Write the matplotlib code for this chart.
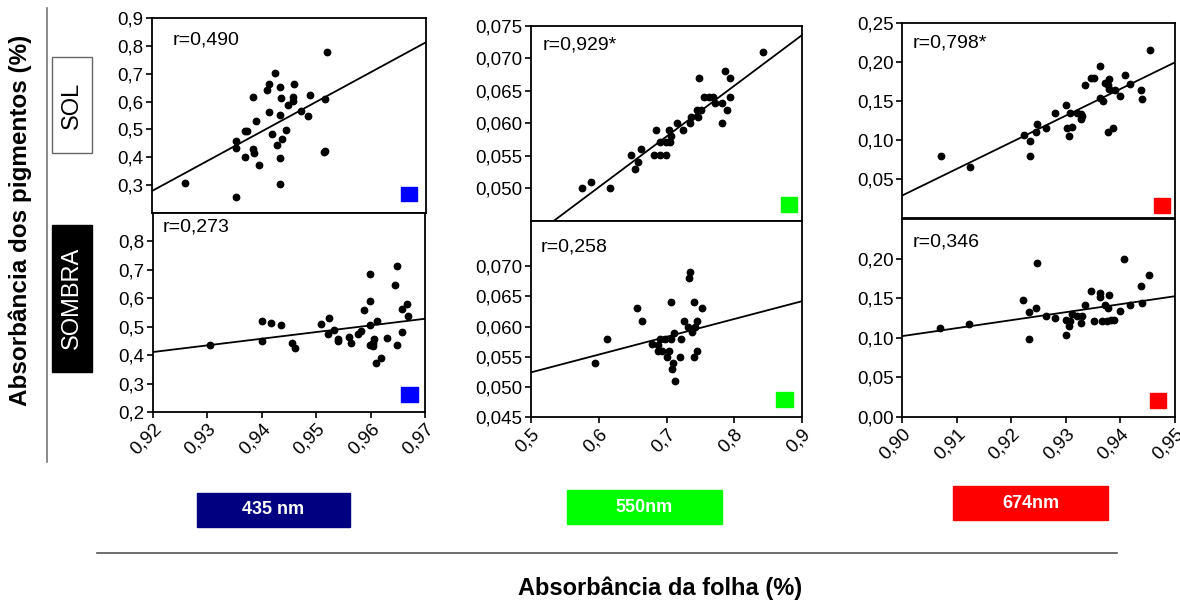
import numpy as np
import matplotlib
matplotlib.use("Agg")
import matplotlib.pyplot as plt
from matplotlib.patches import Rectangle
from matplotlib.lines import Line2D

plt.rcParams['font.family'] = ['Liberation Sans', 'DejaVu Sans']

# ---- dados ----
# 435 nm, sol
x_435_sol = [0.9261, 0.9354, 0.9354, 0.9354, 0.9369, 0.9373, 0.9369, 0.9385, 0.9389, 0.9384,
             0.9387, 0.9395, 0.9410, 0.9414, 0.9425, 0.9414, 0.9419, 0.9428, 0.9434, 0.9436,
             0.9434, 0.9437, 0.9433, 0.9434, 0.9445, 0.9448, 0.9457, 0.9458, 0.9460, 0.9471,
             0.9484, 0.9488, 0.9513, 0.9515, 0.9516, 0.9520]
y_435_sol = [0.306, 0.256, 0.457, 0.433, 0.494, 0.494, 0.401, 0.615, 0.529, 0.428,
             0.415, 0.374, 0.642, 0.662, 0.704, 0.561, 0.484, 0.443, 0.654, 0.613,
             0.552, 0.464, 0.399, 0.305, 0.498, 0.588, 0.618, 0.603, 0.662, 0.567,
             0.547, 0.623, 0.419, 0.422, 0.609, 0.778]
# 435 nm, sombra
x_435_sombra = [0.9305, 0.9400, 0.9400, 0.9417, 0.9435, 0.9456, 0.9461, 0.9509, 0.9524, 0.9522,
                0.9532, 0.9540, 0.9540, 0.9561, 0.9564, 0.9576, 0.9582, 0.9588, 0.9599, 0.9599,
                0.9598, 0.9598, 0.9604, 0.9606, 0.9605, 0.9611, 0.9610, 0.9619, 0.9630, 0.9644,
                0.9649, 0.9648, 0.9657, 0.9657, 0.9666, 0.9668]
y_435_sombra = [0.437, 0.520, 0.449, 0.512, 0.505, 0.443, 0.426, 0.510, 0.530, 0.475,
                0.488, 0.456, 0.449, 0.463, 0.443, 0.476, 0.486, 0.559, 0.687, 0.590,
                0.505, 0.435, 0.443, 0.456, 0.431, 0.521, 0.374, 0.391, 0.461, 0.648,
                0.713, 0.436, 0.482, 0.562, 0.581, 0.536]
# 550 nm, sol
x_550_sol = [0.576, 0.588, 0.617, 0.648, 0.654, 0.658, 0.663, 0.681, 0.684, 0.691,
             0.691, 0.699, 0.699, 0.703, 0.705, 0.706, 0.715, 0.724, 0.735, 0.736,
             0.746, 0.745, 0.751, 0.748, 0.756, 0.763, 0.768, 0.771, 0.782, 0.786,
             0.782, 0.789, 0.794, 0.794, 0.842]
y_550_sol = [0.0500, 0.0510, 0.0500, 0.0551, 0.0530, 0.0541, 0.0560, 0.0551, 0.0590, 0.0571,
             0.0551, 0.0551, 0.0571, 0.0590, 0.0571, 0.0580, 0.0601, 0.0590, 0.0601, 0.0610,
             0.0610, 0.0620, 0.0620, 0.0670, 0.0641, 0.0641, 0.0641, 0.0631, 0.0631, 0.0680,
             0.0601, 0.0620, 0.0670, 0.0641, 0.0710]
# 550 nm, sombra
x_550_sombra = [0.595, 0.612, 0.656, 0.664, 0.679, 0.688, 0.688, 0.690, 0.694, 0.698,
                0.701, 0.704, 0.706, 0.707, 0.708, 0.710, 0.711, 0.713, 0.720, 0.721,
                0.726, 0.731, 0.733, 0.734, 0.738, 0.740, 0.741, 0.742, 0.745, 0.745,
                0.753]
y_550_sombra = [0.0540, 0.0580, 0.0631, 0.0610, 0.0571, 0.0570, 0.0560, 0.0580, 0.0560, 0.0580,
                0.0550, 0.0560, 0.0641, 0.0580, 0.0530, 0.0540, 0.0590, 0.0510, 0.0550, 0.0580,
                0.0610, 0.0600, 0.0681, 0.0691, 0.0591, 0.0550, 0.0641, 0.0600, 0.0610, 0.0560,
                0.0631]
# 674 nm, sol
x_674_sol = [0.9071, 0.9125, 0.9223, 0.9234, 0.9234, 0.9247, 0.9246, 0.9264, 0.9281, 0.9300,
             0.9302, 0.9305, 0.9308, 0.9312, 0.9321, 0.9327, 0.9328, 0.9330, 0.9336, 0.9347,
             0.9351, 0.9363, 0.9363, 0.9369, 0.9372, 0.9377, 0.9380, 0.9380, 0.9377, 0.9386,
             0.9390, 0.9400, 0.9408, 0.9418, 0.9437, 0.9440, 0.9454]
y_674_sol = [0.079, 0.065, 0.106, 0.099, 0.079, 0.120, 0.110, 0.116, 0.134, 0.145,
             0.115, 0.105, 0.134, 0.117, 0.135, 0.133, 0.127, 0.131, 0.171, 0.180,
             0.180, 0.195, 0.154, 0.150, 0.173, 0.170, 0.178, 0.166, 0.110, 0.115,
             0.164, 0.157, 0.183, 0.172, 0.164, 0.153, 0.215]
# 674 nm, sombra
x_674_sombra = [0.9070, 0.9123, 0.9222, 0.9233, 0.9233, 0.9246, 0.9247, 0.9263, 0.9280, 0.9300,
                0.9301, 0.9305, 0.9307, 0.9311, 0.9320, 0.9328, 0.9329, 0.9335, 0.9347, 0.9351,
                0.9363, 0.9363, 0.9366, 0.9372, 0.9375, 0.9378, 0.9380, 0.9383, 0.9389, 0.9399,
                0.9407, 0.9417, 0.9437, 0.9439, 0.9453]
y_674_sombra = [0.112, 0.118, 0.148, 0.132, 0.099, 0.137, 0.195, 0.127, 0.125, 0.103,
                0.122, 0.115, 0.121, 0.130, 0.128, 0.119, 0.127, 0.141, 0.159, 0.121,
                0.157, 0.152, 0.121, 0.141, 0.121, 0.137, 0.154, 0.122, 0.122, 0.134,
                0.200, 0.141, 0.165, 0.144, 0.179]

# retas de regressao (valor de y nos limites do eixo x)
fit_435_sol = [0.279, 0.813]
fit_435_sombra = [0.411, 0.528]
fit_550_sol = [0.0424, 0.0736]
fit_550_sombra = [0.0524, 0.0642]
fit_674_sol = [0.0287, 0.1996]
fit_674_sombra = [0.1021, 0.1525]

r_labels = ["r=0,490", "r=0,273", "r=0,929*", "r=0,258", "r=0,798*", "r=0,346"]
band_labels = ["435 nm", "550nm", "674nm"]
band_colors = ["#000080", "#00ff00", "#ff0000"]
mark_colors = ["#0000ff", "#00ff00", "#ff0000"]

# ticks
xt_435 = [0.92, 0.93, 0.94, 0.95, 0.96, 0.97]
xt_550 = [0.5, 0.6, 0.7, 0.8, 0.9]
xt_674 = [0.90, 0.91, 0.92, 0.93, 0.94, 0.95]
yt_435_sol = [0.3, 0.4, 0.5, 0.6, 0.7, 0.8, 0.9]
yt_435_sombra = [0.2, 0.3, 0.4, 0.5, 0.6, 0.7, 0.8]
yt_550_sol = [0.050, 0.055, 0.060, 0.065, 0.070, 0.075]
yt_550_sombra = [0.045, 0.050, 0.055, 0.060, 0.065, 0.070]
yt_674_sol = [0.05, 0.10, 0.15, 0.20, 0.25]
yt_674_sombra = [0.00, 0.05, 0.10, 0.15, 0.20]

W, H = 1180, 601
fig = plt.figure(figsize=(W / 100, H / 100), dpi=100)


def box(l, t, r, b):
    # pixels -> fracao da figura
    return [l / W, 1 - b / H, (r - l) / W, (b - t) / H]


def fmt(v, nd):
    return f"{v:.{nd}f}".replace(".", ",")


def painel(rect, xs, ys, fit, xlim, ylim, xt, yt, ndx, ndy, rtxt, rpos, cor, qpos, show_x):
    ax = fig.add_axes(box(*rect))
    ax.plot(xlim, fit, color="black", lw=1.3, zorder=2)
    ax.plot(xs, ys, "o", color="black", ms=4.6, zorder=3)
    ax.set_xlim(xlim)
    ax.set_ylim(ylim)
    ax.set_yticks(yt)
    ax.set_yticklabels([fmt(v, ndy) for v in yt])
    ax.set_xticks(xt)
    if show_x:
        ax.set_xticklabels([fmt(v, ndx) for v in xt], rotation=45, ha="right",
                           rotation_mode="anchor")
    else:
        ax.tick_params(axis="x", bottom=False, labelbottom=False)
    ax.tick_params(direction="out", length=4, width=1.2, labelsize=13.5, pad=2)
    for s in ax.spines.values():
        s.set_linewidth(1.3)
    ax.text(rpos[0], rpos[1], rtxt, transform=ax.transAxes, fontsize=14,
            ha="left", va="center")
    ax.add_patch(Rectangle((qpos[0] - 0.03, qpos[1] - 0.038), 0.06, 0.076,
                           transform=ax.transAxes, color=cor, zorder=4, clip_on=False))
    return ax


painel((152, 18, 426, 213), x_435_sol, y_435_sol, fit_435_sol, (0.92, 0.97), (0.2, 0.9),
       xt_435, yt_435_sol, 2, 1, r_labels[0], (0.077, 0.887), mark_colors[0], (0.938, 0.097), False)
painel((153, 213, 425, 412), x_435_sombra, y_435_sombra, fit_435_sombra, (0.92, 0.97), (0.2, 0.9),
       xt_435, yt_435_sombra, 2, 1, r_labels[1], (0.037, 0.93), mark_colors[0], (0.943, 0.088), True)
painel((531, 26, 802, 221), x_550_sol, y_550_sol, fit_550_sol, (0.5, 0.9), (0.045, 0.075),
       xt_550, yt_550_sol, 1, 3, r_labels[2], (0.044, 0.90), mark_colors[1], (0.952, 0.085), False)
painel((531, 221, 802, 417), x_550_sombra, y_550_sombra, fit_550_sombra, (0.5, 0.9), (0.045, 0.0775),
       xt_550, yt_550_sombra, 1, 3, r_labels[3], (0.037, 0.867), mark_colors[1], (0.935, 0.089), True)
painel((902, 23, 1175, 218), x_674_sol, y_674_sol, fit_674_sol, (0.90, 0.95), (0.0, 0.25),
       xt_674, yt_674_sol, 2, 2, r_labels[4], (0.04, 0.90), mark_colors[2], (0.952, 0.064), False)
painel((902, 219, 1175, 417), x_674_sombra, y_674_sombra, fit_674_sombra, (0.90, 0.95), (0.0, 0.25),
       xt_674, yt_674_sombra, 2, 2, r_labels[5], (0.04, 0.884), mark_colors[2], (0.938, 0.083), True)

# rotulos e caixas
fig.text(20 / W, 1 - 220 / H, "Absorbância dos pigmentos (%)", rotation=90, fontsize=17.5,
         fontweight="bold", ha="center", va="center")
fig.add_artist(Line2D([47 / W, 47 / W], [1 - 8 / H, 1 - 462 / H], color="#777777", lw=1.2))

fig.add_artist(Rectangle((52 / W, 1 - 153 / H), 40 / W, 96 / H, facecolor="white",
                         edgecolor="#666666", lw=1))
fig.text(72 / W, 1 - 105 / H, "SOL", rotation=90, fontsize=17, ha="center", va="center")
fig.add_artist(Rectangle((52 / W, 1 - 372 / H), 40 / W, 147 / H, facecolor="black",
                         edgecolor="black", lw=1))
fig.text(72 / W, 1 - 298 / H, "SOMBRA", rotation=90, fontsize=17, ha="center", va="center",
         color="white")

band_boxes = [(197, 493, 350, 527), (567, 490, 722, 524), (953, 486, 1108, 520)]
for (l, t, r, b), lab, c in zip(band_boxes, band_labels, band_colors):
    fig.add_artist(Rectangle((l / W, 1 - b / H), (r - l) / W, (b - t) / H, color=c))
    fig.text((l + r) / 2 / W, 1 - (t + b) / 2 / H, lab, fontsize=13, fontweight="bold",
             color="white", ha="center", va="center")

fig.add_artist(Line2D([97 / W, 1117 / W], [1 - 553 / H, 1 - 553 / H], color="#555555", lw=1.2))
fig.text(660 / W, 1 - 588 / H, "Absorbância da folha (%)", fontsize=17, fontweight="bold",
         ha="center", va="center")

fig.savefig("out.png", dpi=100)
